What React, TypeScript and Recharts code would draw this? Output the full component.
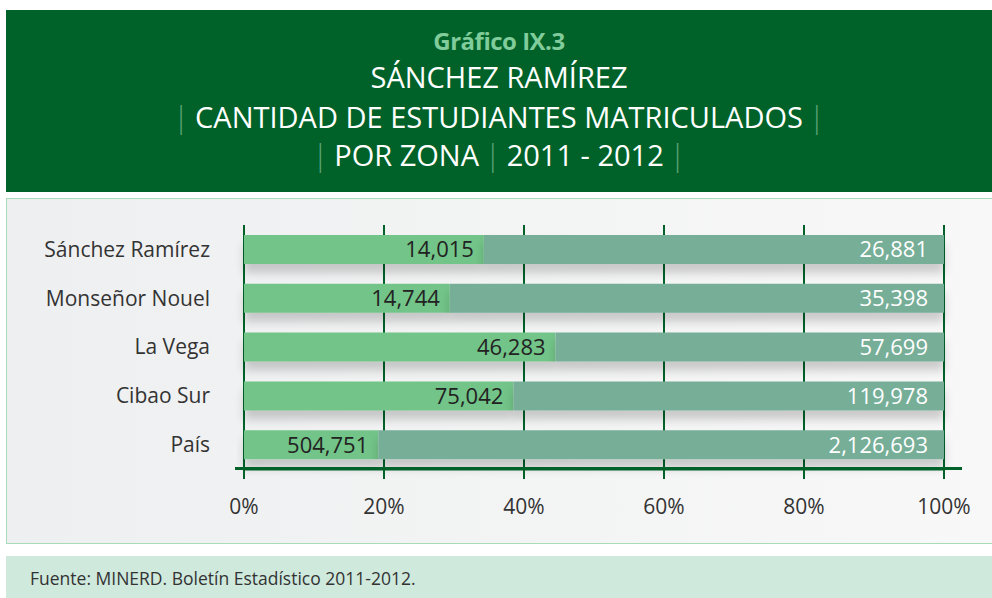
import React from 'react';
import { BarChart, Bar, XAxis, YAxis, CartesianGrid, LabelList } from 'recharts';

const zonas = ['Sánchez Ramírez', 'Monseñor Nouel', 'La Vega', 'Cibao Sur', 'País'];
const rural = [14015, 14744, 46283, 75042, 504751];
const urbana = [26881, 35398, 57699, 119978, 2126693];
const pctTicks = [0, 0.2, 0.4, 0.6, 0.8, 1];

const chartData = zonas.map((zona, i) => ({ zona, rural: rural[i], urbana: urbana[i] }));

const DARK_GREEN = '#006229';
const FONT = '"Open Sans", "DejaVu Sans", sans-serif';

const fmt = (v: any) => Number(v).toLocaleString('en-US');

const Sep = () => <span style={{ color: '#5fa57a', fontWeight: 300, margin: '0 6px' }}>|</span>;

const App: React.FC = () => {
  return (
    <div style={{ position: 'absolute', left: 0, top: 0, width: 992, height: 598, background: '#fff', fontFamily: FONT, overflow: 'hidden' }}>
      {/* header */}
      <div style={{ position: 'absolute', left: 6, top: 10, width: 986, height: 182, background: DARK_GREEN, color: '#fff', textAlign: 'center', lineHeight: 1.2 }}>
        <div style={{ position: 'absolute', top: 17, width: '100%', fontSize: 24, fontWeight: 700, color: '#80cc9b', letterSpacing: -0.5 }}>
          Gráfico IX.3
        </div>
        <div style={{ position: 'absolute', top: 50, width: '100%', fontSize: 29 }}>SÁNCHEZ RAMÍREZ</div>
        <div style={{ position: 'absolute', top: 90, width: '100%', fontSize: 29 }}>
          <Sep />CANTIDAD DE ESTUDIANTES MATRICULADOS<Sep />
        </div>
        <div style={{ position: 'absolute', top: 128, width: '100%', fontSize: 29 }}>
          <Sep />POR ZONA<Sep />2011 - 2012<Sep />
        </div>
      </div>

      {/* plot panel */}
      <div style={{ position: 'absolute', left: 6, top: 198, width: 990, height: 346, border: '1px solid #a8dbb8', boxSizing: 'border-box', background: 'linear-gradient(to right, #eeeff0, #f8f8f8)' }} />

      <div style={{ position: 'absolute', left: 0, top: 198 }}>
        <BarChart
          width={992}
          height={347}
          data={chartData}
          layout="vertical"
          stackOffset="expand"
          margin={{ top: 27, right: 48, left: 0, bottom: 16 }}
        >
          <defs>
            <filter id="barShadow" x="-5%" y="-30%" width="110%" height="200%">
              <feDropShadow dx="0" dy="9" stdDeviation="5" floodColor="#000" floodOpacity="0.18" />
            </filter>
          </defs>
          <CartesianGrid vertical horizontal={false} stroke={DARK_GREEN} strokeWidth={2} />
          <XAxis
            type="number"
            domain={[0, 1]}
            ticks={pctTicks}
            tickFormatter={(v) => `${Math.round(v * 100)}%`}
            tick={{ fontSize: 21, fill: '#333', fontFamily: FONT }}
            axisLine={{ stroke: DARK_GREEN, strokeWidth: 3 }}
            tickLine={{ stroke: DARK_GREEN, strokeWidth: 2 }}
            tickSize={10}
            tickMargin={20}
            height={60}
          />
          <YAxis
            type="category"
            dataKey="zona"
            width={244}
            axisLine={false}
            tickLine={false}
            tickSize={0}
            tickMargin={34}
            tick={{ fontSize: 21, fill: '#333', fontFamily: FONT }}
          />
          <Bar dataKey="rural" stackId="a" fill="#72c488" barSize={29} isAnimationActive={false} style={{ filter: 'url(#barShadow)' }}>
            <LabelList dataKey="rural" position="insideRight" offset={10} formatter={fmt} fill="#222" fontSize={22} fontFamily={FONT} />
          </Bar>
          <Bar dataKey="urbana" stackId="a" fill="#76ae98" barSize={29} isAnimationActive={false} style={{ filter: 'url(#barShadow)' }}>
            <LabelList dataKey="urbana" position="insideRight" offset={16} formatter={fmt} fill="#fff" fontSize={22} fontFamily={FONT} />
          </Bar>
        </BarChart>
      </div>

      {/* axis line extension */}
      <div style={{ position: 'absolute', left: 235, top: 467, width: 727, height: 3, background: DARK_GREEN }} />

      {/* footer */}
      <div style={{ position: 'absolute', left: 6, top: 556, width: 986, height: 42, background: '#cfe9dd' }}>
        <div style={{ position: 'absolute', left: 24, top: 10, fontSize: 17.5, color: '#333' }}>
          Fuente: MINERD. Boletín Estadístico 2011-2012.
        </div>
      </div>
    </div>
  );
};

export default App;
